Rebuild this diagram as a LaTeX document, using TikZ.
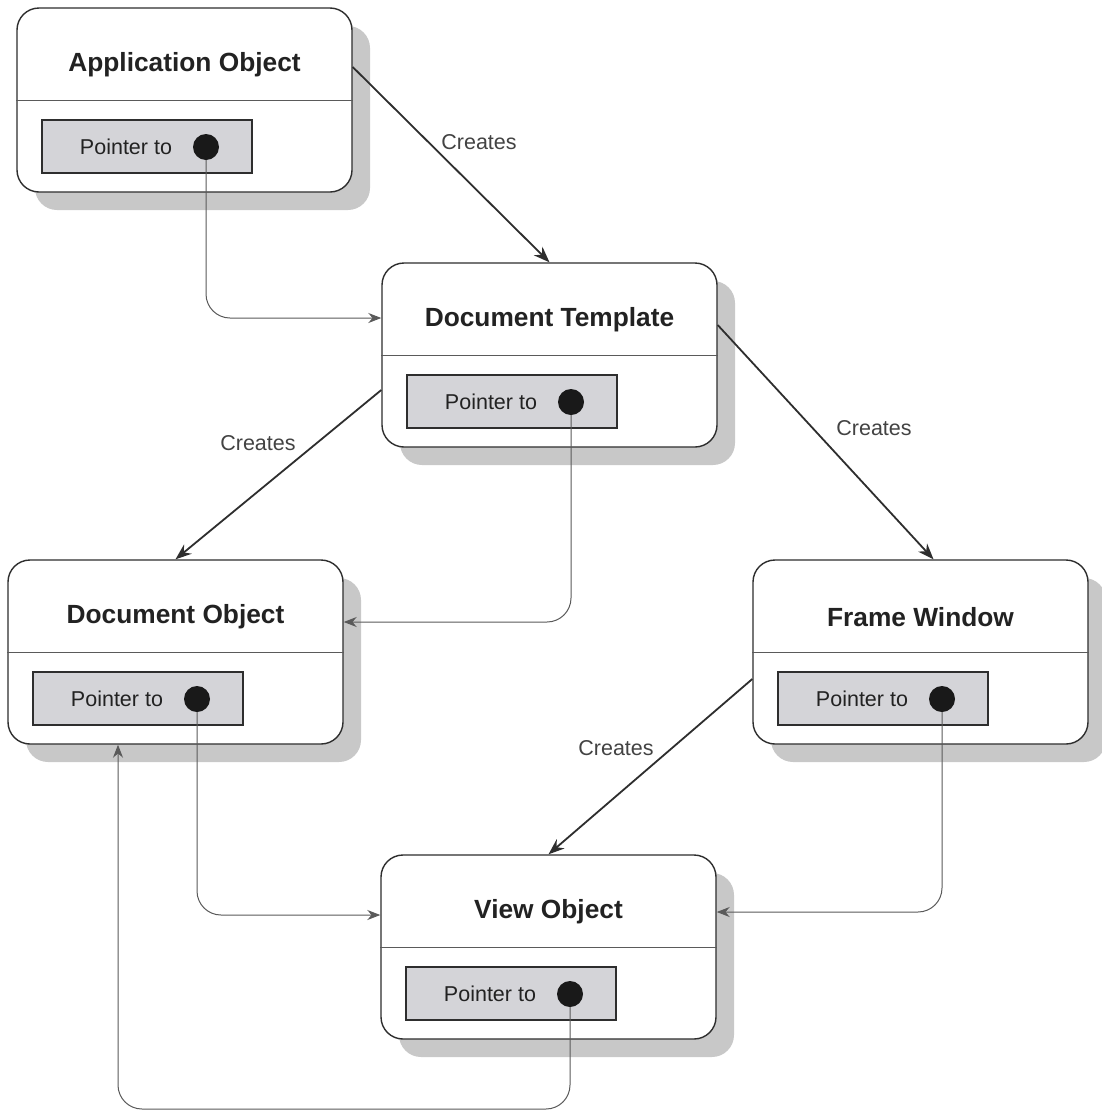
\documentclass[tikz,border=0pt]{standalone}
\usepackage{fontspec}
\setmainfont{Liberation Sans}
\usetikzlibrary{arrows.meta,shadows,calc}

\definecolor{inkline}{HTML}{2E2E2E}
\definecolor{thinline}{HTML}{5A5A5A}
\definecolor{shadowgray}{HTML}{C8C8C8}
\definecolor{slotgray}{HTML}{D4D4D8}
\definecolor{textdark}{HTML}{222222}

% One class: rounded box with drop shadow, title, divider and a pointer slot
\newcommand{\umlclass}[4]{%
  \node[classbox] (#1) at (#2,#3) {};
  \draw[divider] (#1.west) -- (#1.east);
  \node[titletext] (#1-t) at ($(#1.center)+(0,-35)$) {#4};
  \node[slotbox] (#1-p) at ($(#1.center)+(-37.5,46.5)$) {};
  \node[slottext] (#1-s) at ($(#1.center)+(-58.5,47)$) {Pointer to};
  \node[slotdot] (#1-d) at ($(#1.center)+(21.5,47)$) {};
}

\begin{document}
\begin{tikzpicture}[x=1pt,y=-1pt,
  classbox/.style={draw=inkline, line width=1.4pt, fill=white,
    rounded corners=22pt, minimum width=335pt, minimum height=184pt,
    inner sep=0pt,
    drop shadow={shadow xshift=18pt, shadow yshift=-18pt,
      fill=shadowgray, opacity=1, draw=none}},
  divider/.style={draw=thinline, line width=0.9pt},
  titletext/.style={font=\fontsize{26.3}{30}\selectfont\bfseries, text=textdark, inner sep=0pt},
  slotbox/.style={draw=inkline, line width=1.3pt, fill=slotgray,
    minimum width=210pt, minimum height=53pt, inner sep=0pt},
  slottext/.style={font=\fontsize{21.5}{25}\selectfont, text=textdark, inner sep=0pt},
  slotdot/.style={circle, fill=black!90, minimum size=26pt, inner sep=0pt},
  creates/.style={draw=inkline, line width=1.8pt,
    -{Stealth[length=16pt, width=12pt]}},
  ptr/.style={draw=thinline, line width=1pt, rounded corners=24pt,
    -{Stealth[length=13pt, width=10pt]}},
  lbl/.style={font=\fontsize{21.5}{25}\selectfont, text=textdark!85, inner sep=0pt}
]
\useasboundingbox (0,0) rectangle (1102,1114);
\fill[white] (0,0) rectangle (1102,1114);

\umlclass{A}{184.5}{100}{Application Object}
\umlclass{T}{549.5}{355}{Document Template}
\umlclass{D}{175.5}{652}{Document Object}
\umlclass{F}{920.5}{652}{Frame Window}
\umlclass{V}{548.5}{947}{View Object}

% "Creates" relations
\draw[creates] ([yshift=33pt]A.east) -- (T.north);
\node[lbl] (c1) at (479,142) {Creates};
\draw[creates] ([yshift=-35pt]T.west) -- (D.north);
\node[lbl] (c2) at (258,443) {Creates};
\draw[creates] ([yshift=30pt]T.east) -- ([xshift=13pt]F.north);
\node[lbl] (c3) at (874,428) {Creates};
\draw[creates] ([yshift=-27pt]F.west) -- (V.north);
\node[lbl] (c4) at (616,748) {Creates};

% Pointer references
\draw[ptr] (A-d.south) |- ([yshift=37pt]T.west);
\draw[ptr] (T-d.south) |- ([yshift=30pt]D.east);
\draw[ptr] (D-d.south) |- ([yshift=32pt]V.west);
\draw[ptr] (F-d.south) |- ([yshift=35pt]V.east);
\coordinate (loop) at (118,1109);
\draw[ptr] (V-d.south) |- (loop) -- ([xshift=-57.5pt]D.south);
\end{tikzpicture}
\end{document}
